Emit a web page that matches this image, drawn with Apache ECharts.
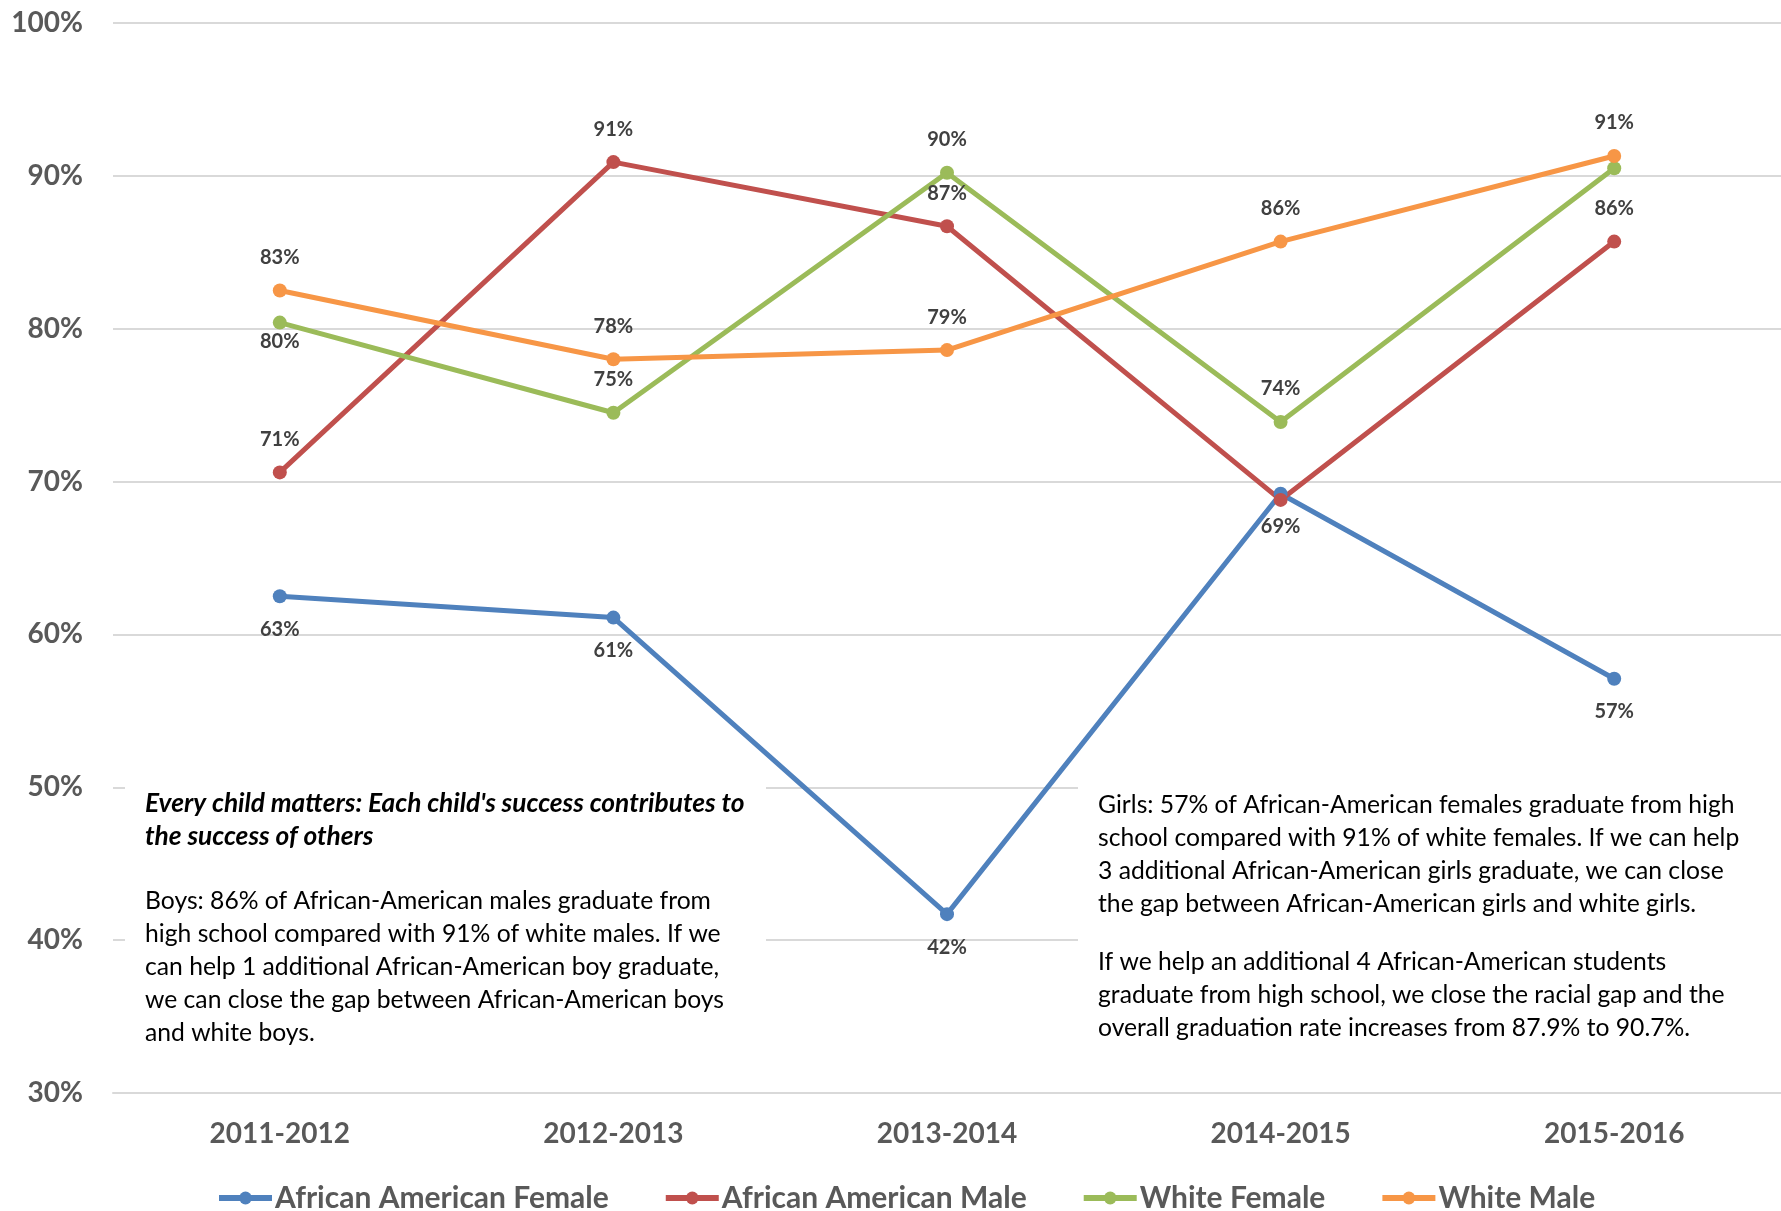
<!DOCTYPE html>
<html>
<head>
<meta charset="utf-8">
<script src="https://cdn.jsdelivr.net/npm/echarts@6/dist/echarts.min.js"></script>
<style>
html, body { margin: 0; padding: 0; background: #fff; }
#main { width: 1781px; height: 1211px; }
</style>
</head>
<body>
<div id="main"></div>
<script>
// graduation rates, percent
var years = ['2011-2012', '2012-2013', '2013-2014', '2014-2015', '2015-2016'];
var aaFemale = [62.5, 61.1, 41.7, 69.2, 57.1];
var aaMale = [70.6, 90.9, 86.7, 68.8, 85.7];
var whiteFemale = [80.4, 74.5, 90.2, 73.9, 90.5];
var whiteMale = [82.5, 78.0, 78.6, 85.7, 91.3];
var yMin = 30, yMax = 100, yStep = 10;

// where each data label sits (null = no label, it overlaps another)
var labelPos = {
    'African American Female': ['bottom', 'bottom', 'bottom', 'bottom', 'bottom'],
    'African American Male': ['top', 'top', 'top', null, 'top'],
    'White Female': ['bottom', 'top', 'top', 'top', null],
    'White Male': ['top', 'top', 'top', 'top', 'top']
};
var labelDist = { 'White Female': [2, 16, 16, 16, 16] };

var FONT = 'Lato, "Open Sans", sans-serif';

function makeSeries(name, values, color) {
    var pos = labelPos[name];
    var dist = labelDist[name];
    return {
        name: name,
        type: 'line',
        data: values.map(function (v, i) {
            var item = { value: v };
            if (pos[i] === null) {
                item.label = { show: false };
            } else {
                item.label = { position: pos[i] };
                if (dist) item.label.distance = dist[i];
            }
            return item;
        }),
        symbol: 'circle',
        symbolSize: 14,
        lineStyle: { width: 5, color: color },
        itemStyle: { color: color },
        label: {
            show: true,
            distance: 16,
            formatter: function (p) { return Math.round(p.value) + '%'; },
            fontFamily: FONT,
            fontWeight: 'bold',
            fontSize: 20,
            color: '#404040'
        }
    };
}

var boysTitle = "Every child matters: Each child's success contributes to\nthe success of others";
var boysText = 'Boys: 86% of African-American males graduate from\n' +
    'high school compared with 91% of white males. If we\n' +
    'can help 1 additional African-American boy graduate,\n' +
    'we can close the gap between African-American boys\n' +
    'and white boys.';
var girlsText = 'Girls: 57% of African-American females graduate from high\n' +
    'school compared with 91% of white females. If we can help\n' +
    '3 additional African-American girls graduate, we can close\n' +
    'the gap between African-American girls and white girls.';
var allText = 'If we help an additional 4 African-American students\n' +
    'graduate from high school, we close the racial gap and the\n' +
    'overall graduation rate increases from 87.9% to 90.7%.';

var option = {
    animation: false,
    backgroundColor: '#fff',
    grid: { left: 113, right: 0, top: 23, bottom: 118 },
    xAxis: {
        type: 'category',
        data: years,
        axisLine: { show: true, lineStyle: { color: '#d9d9d9', width: 2 } },
        axisTick: { show: false },
        axisLabel: { margin: 27, fontFamily: FONT, fontWeight: 'bold', fontSize: 28, color: '#595959' }
    },
    yAxis: {
        type: 'value',
        min: yMin,
        max: yMax,
        interval: yStep,
        axisLine: { show: false },
        axisTick: { show: false },
        axisLabel: { margin: 30, formatter: '{value}%', fontFamily: FONT, fontWeight: 'bold', fontSize: 28, color: '#595959' },
        splitLine: { lineStyle: { color: '#d9d9d9', width: 2 } }
    },
    legend: {
        left: 211,
        top: 1178,
        itemWidth: 53,
        itemHeight: 16,
        itemGap: 54,
        lineStyle: { width: 6 },
        textStyle: { fontFamily: FONT, fontWeight: 'bold', fontSize: 30, color: '#595959', padding: [0, 0, 0, -2] }
    },
    graphic: [
        { type: 'rect', z: 1, shape: { x: 125, y: 770, width: 641, height: 321 }, style: { fill: '#fff' } },
        { type: 'rect', z: 1, shape: { x: 1078, y: 770, width: 703, height: 321 }, style: { fill: '#fff' } },
        { type: 'text', z: 1, x: 145, y: 787, style: { text: boysTitle, font: 'italic bold 26.3px ' + FONT, fill: '#000', lineHeight: 33 } },
        { type: 'text', z: 1, x: 145, y: 885, style: { text: boysText, font: '24.7px ' + FONT, fill: '#000', lineHeight: 33 } },
        { type: 'text', z: 1, x: 1098, y: 789, style: { text: girlsText, font: '24.7px ' + FONT, fill: '#000', lineHeight: 33 } },
        { type: 'text', z: 1, x: 1098, y: 946, style: { text: allText, font: '24.7px ' + FONT, fill: '#000', lineHeight: 33 } }
    ],
    series: [
        makeSeries('African American Female', aaFemale, '#4F81BD'),
        makeSeries('African American Male', aaMale, '#C0504D'),
        makeSeries('White Female', whiteFemale, '#9BBB59'),
        makeSeries('White Male', whiteMale, '#F79646')
    ]
};

var myChart = echarts.init(document.getElementById('main'));
myChart.setOption(option);
</script>
</body>
</html>
